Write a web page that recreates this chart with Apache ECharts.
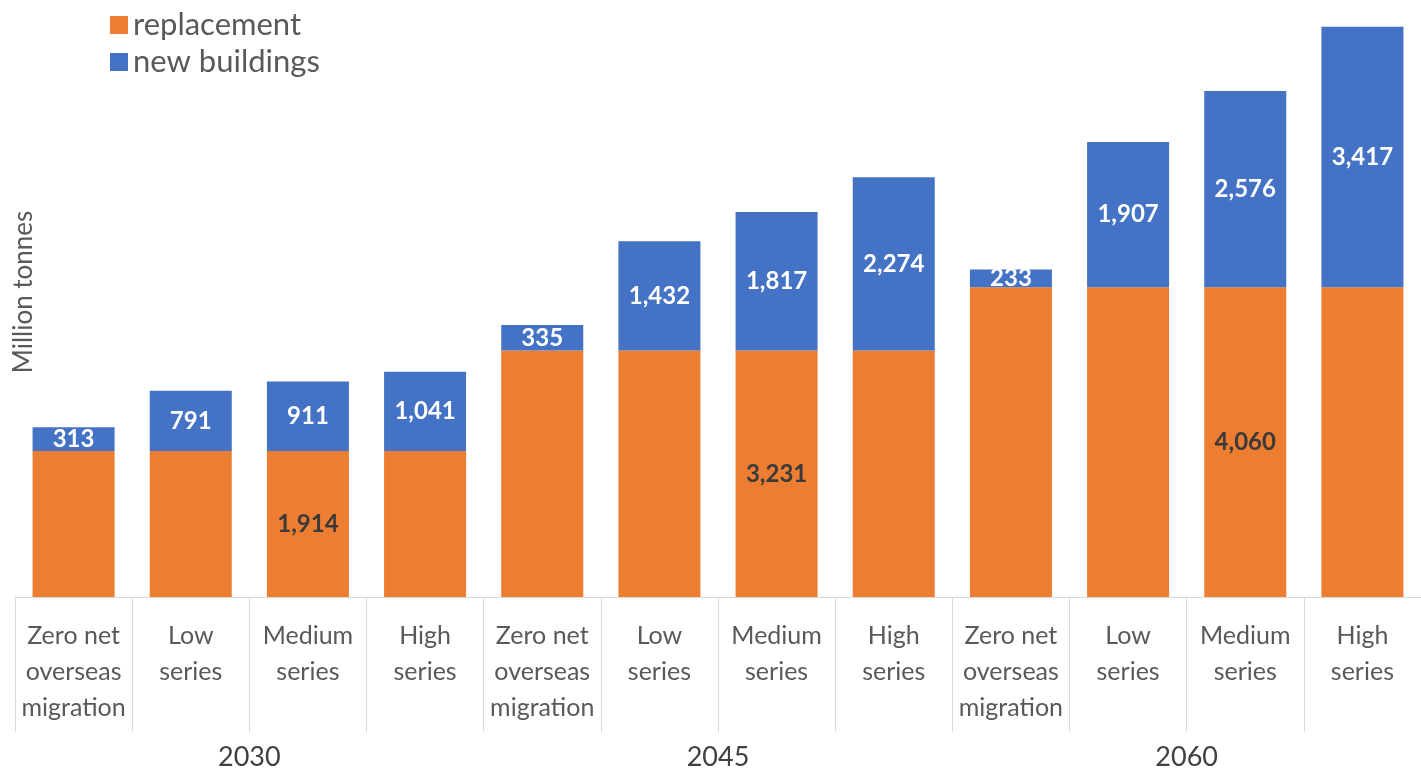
<!DOCTYPE html>
<html>
<head>
<meta charset="utf-8">
<script src="https://cdn.jsdelivr.net/npm/echarts@6/dist/echarts.min.js"></script>
<style>html,body{margin:0;padding:0;background:#fff;}#c{width:1421px;height:772px;}</style>
</head>
<body>
<div id="c"></div>
<script>
const categories = [
  'Zero net\noverseas\nmigration', 'Low\nseries', 'Medium\nseries', 'High\nseries',
  'Zero net\noverseas\nmigration', 'Low\nseries', 'Medium\nseries', 'High\nseries',
  'Zero net\noverseas\nmigration', 'Low\nseries', 'Medium\nseries', 'High\nseries'
];
const years = ['2030', '2045', '2060'];
const replacement = [1914, 1914, 1914, 1914, 3231, 3231, 3231, 3231, 4060, 4060, 4060, 4060];
const newBuildings = [313, 791, 911, 1041, 335, 1432, 1817, 2274, 233, 1907, 2576, 3417];
const replacementLabelShown = [false, false, true, false, false, false, true, false, false, false, true, false];

const FONT = 'Lato';
const chart = echarts.init(document.getElementById('c'));
const fmt = v => v.toLocaleString('en-US');

chart.setOption({
  animation: false,
  textStyle: { fontFamily: FONT },
  legend: {
    orient: 'vertical',
    left: 105,
    top: 4,
    itemWidth: 18,
    itemHeight: 18,
    itemGap: 5,
    icon: 'rect',
    textStyle: { fontSize: 31, lineHeight: 32, color: '#595959', fontFamily: FONT },
    data: ['replacement', 'new buildings']
  },
  graphic: [{
    type: 'text',
    x: 24,
    y: 292,
    rotation: Math.PI / 2,
    style: {
      text: 'Million tonnes',
      fontSize: 26,
      fill: '#595959',
      fontFamily: FONT,
      align: 'center',
      verticalAlign: 'middle'
    }
  }],
  grid: { left: 15, width: 1412, top: 25, bottom: 174, containLabel: false },
  xAxis: [{
    type: 'category',
    data: categories,
    position: 'bottom',
    axisLine: { show: true, lineStyle: { color: '#d9d9d9', width: 1 } },
    axisTick: { show: true, length: 135, interval: 0, lineStyle: { color: '#d9d9d9' } },
    axisLabel: { interval: 0, fontSize: 25, lineHeight: 36, color: '#595959', margin: 21, fontFamily: FONT }
  }, {
    type: 'category',
    data: years,
    position: 'bottom',
    offset: 0,
    axisLine: { show: false },
    axisTick: { show: false },
    axisLabel: { interval: 0, fontSize: 27, lineHeight: 30, color: '#404040', margin: 145, fontFamily: FONT }
  }],
  yAxis: {
    type: 'value',
    min: 0,
    max: 7500,
    axisLine: { show: false },
    axisTick: { show: false },
    axisLabel: { show: false },
    splitLine: { show: false }
  },
  series: [{
    name: 'replacement',
    type: 'bar',
    stack: 'total',
    xAxisIndex: 0,
    barCategoryGap: '30%',
    itemStyle: { color: '#ED7D31' },
    data: replacement.map((v, i) => ({
      value: v,
      label: { show: replacementLabelShown[i] }
    })),
    label: {
      position: 'inside',
      fontSize: 24,
      fontWeight: 'bold',
      color: '#3a3a3a',
      fontFamily: FONT,
      formatter: p => fmt(p.value)
    }
  }, {
    name: 'new buildings',
    type: 'bar',
    stack: 'total',
    xAxisIndex: 0,
    barCategoryGap: '30%',
    itemStyle: { color: '#4472C4' },
    data: newBuildings,
    label: {
      show: true,
      position: 'inside',
      fontSize: 24,
      fontWeight: 'bold',
      color: '#ffffff',
      fontFamily: FONT,
      formatter: p => fmt(p.value)
    }
  }]
});
</script>
</body>
</html>
